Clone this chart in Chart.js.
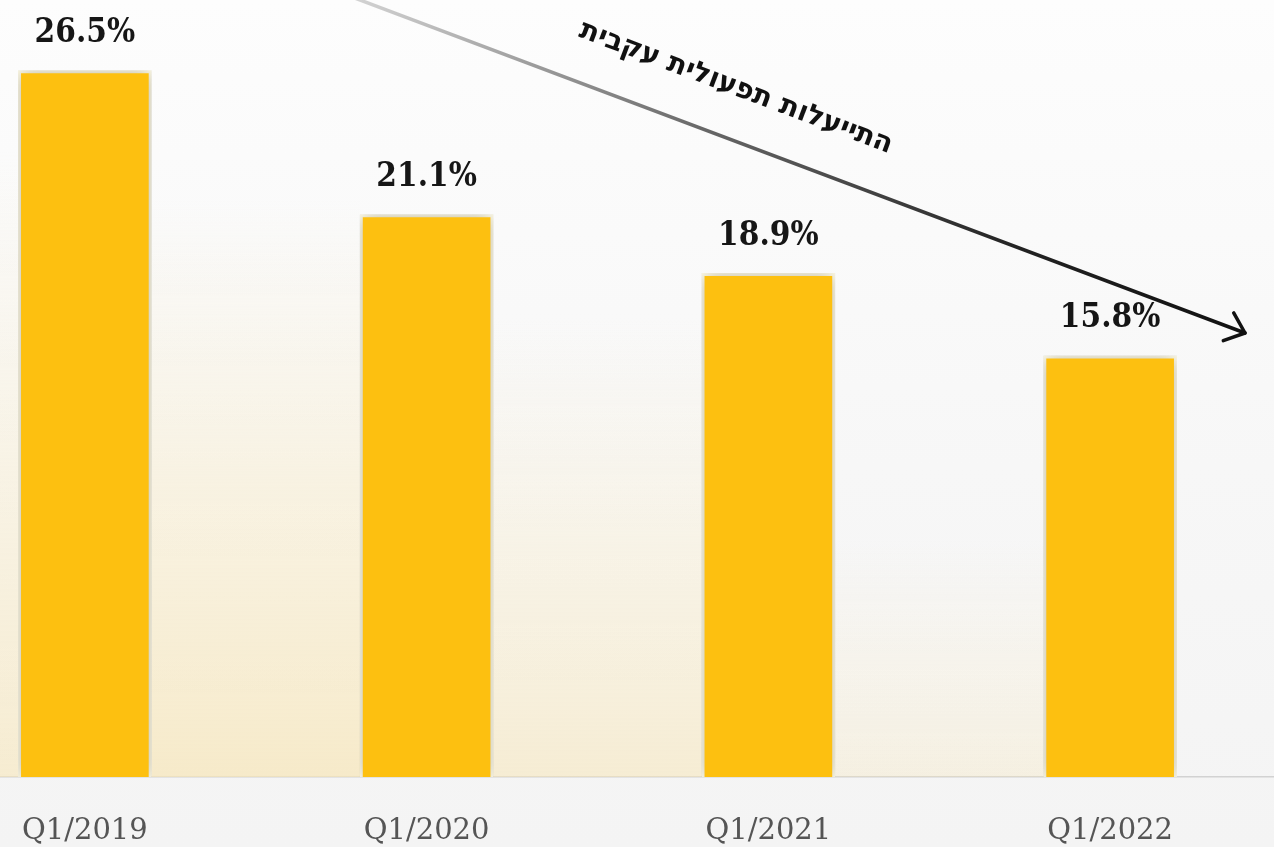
<!DOCTYPE html>
<html>
<head>
<meta charset="utf-8">
<script src="https://cdn.jsdelivr.net/npm/chart.js@4"></script>
<style>
  html, body { margin: 0; padding: 0; width: 1274px; height: 847px; overflow: hidden; }
  body {
    background: linear-gradient(180deg, #fdfdfd 0%, #f7f7f7 55%, #f4f4f4 100%);
    position: relative;
  }
  #c { position: absolute; left: -86px; top: 0; }
</style>
</head>
<body>
<canvas id="c" width="1367" height="847"></canvas>
<script>
const categories = ["Q1/2019", "Q1/2020", "Q1/2021", "Q1/2022"];
const values = [26.5, 21.1, 18.9, 15.8];
const valueLabels = ["26.5%", "21.1%", "18.9%", "15.8%"];
const arrowText = "התייעלות תפעולית עקבית";

const OFFSET_X = 86; // canvas is shifted left by this many px

// warm glow in the gaps between bars (decorative)
const glowPlugin = {
  id: 'gapGlow',
  beforeDatasetsDraw(chart) {
    const ctx = chart.ctx;
    const area = chart.chartArea;
    const bars = chart.getDatasetMeta(0).data;
    const gaps = [];
    const half = bars[0].width / 2;
    gaps.push({ l: OFFSET_X - 2, r: bars[0].x - half, top: 150, a: 0.6 });
    for (let i = 0; i < bars.length - 1; i++) {
      gaps.push({ l: bars[i].x + half, r: bars[i + 1].x - half,
                  top: [200, 320, 540][i], a: [0.72, 0.55, 0.32][i] });
    }
    ctx.save();
    gaps.forEach(g => {
      const grad = ctx.createLinearGradient(0, g.top, 0, area.bottom);
      grad.addColorStop(0, 'rgba(250,238,205,0)');
      grad.addColorStop(0.5, `rgba(250,236,198,${g.a * 0.6})`);
      grad.addColorStop(1, `rgba(247,230,185,${g.a})`);
      ctx.fillStyle = grad;
      ctx.fillRect(g.l, g.top, g.r - g.l, area.bottom - g.top);
    });
    ctx.restore();
    // bar shadow
    ctx.save();
    ctx.shadowColor = 'rgba(0,0,0,0.28)';
    ctx.shadowBlur = 16;
    ctx.shadowOffsetX = 0;
    ctx.shadowOffsetY = 0;
  },
  afterDatasetsDraw(chart) {
    chart.ctx.restore();
  }
};

const labelPlugin = {
  id: 'valueLabels',
  afterDatasetsDraw(chart) {
    const ctx = chart.ctx;
    const meta = chart.getDatasetMeta(0);
    ctx.save();
    ctx.shadowColor = 'transparent';
    ctx.font = "bold 33px 'DejaVu Serif Condensed', 'DejaVu Serif', serif";
    ctx.fillStyle = '#161616';
    ctx.textAlign = 'center';
    ctx.textBaseline = 'middle';
    meta.data.forEach((bar, i) => {
      ctx.fillText(valueLabels[i], bar.x, bar.y - 37);
    });
    ctx.restore();
  }
};

const arrowPlugin = {
  id: 'trendArrow',
  afterDraw(chart) {
    const ctx = chart.ctx;
    const x0 = 352 + OFFSET_X, y0 = -3;
    const x1 = 1245 + OFFSET_X, y1 = 333;
    ctx.save();
    const g = ctx.createLinearGradient(x0, y0, x1, y1);
    g.addColorStop(0, '#d4d4d4');
    g.addColorStop(0.4, '#666666');
    g.addColorStop(0.75, '#222222');
    g.addColorStop(1, '#111111');
    ctx.strokeStyle = g;
    ctx.lineWidth = 3.5;
    ctx.lineCap = 'round';
    ctx.lineJoin = 'round';
    ctx.beginPath();
    ctx.moveTo(x0, y0);
    ctx.lineTo(x1, y1);
    ctx.stroke();
    const ang = Math.atan2(y1 - y0, x1 - x0);
    const len = 23, spread = 40 * Math.PI / 180;
    ctx.strokeStyle = '#111111';
    ctx.beginPath();
    ctx.moveTo(x1 - len * Math.cos(ang - spread), y1 - len * Math.sin(ang - spread));
    ctx.lineTo(x1, y1);
    ctx.lineTo(x1 - len * Math.cos(ang + spread), y1 - len * Math.sin(ang + spread));
    ctx.stroke();
    // rotated text
    ctx.translate(736 + OFFSET_X, 88);
    ctx.rotate(ang);
    ctx.font = "bold 28px 'DejaVu Sans', 'Liberation Sans', sans-serif";
    ctx.fillStyle = '#111111';
    ctx.direction = 'rtl';
    ctx.textAlign = 'center';
    ctx.textBaseline = 'middle';
    ctx.fillText(arrowText, 0, 0);
    ctx.restore();
  }
};

new Chart(document.getElementById('c'), {
  type: 'bar',
  data: {
    labels: categories,
    datasets: [{
      data: values,
      backgroundColor: '#FDC010',
      borderColor: '#FFFBE6',
      borderWidth: 3,
      borderSkipped: 'start',
      barThickness: 133
    }]
  },
  options: {
    responsive: false,
    animation: false,
    devicePixelRatio: 1,
    layout: { padding: 0 },
    plugins: {
      legend: { display: false },
      tooltip: { enabled: false },
      title: { display: false }
    },
    scales: {
      x: {
        grid: { display: false, drawTicks: false },
        border: { display: true, color: '#d2d2d2', width: 1.5 },
        ticks: {
          color: '#555555',
          font: { family: "'DejaVu Serif', serif", size: 29 },
          padding: 37,
          maxRotation: 0
        },
        afterFit(scale) { scale.height = 70; }
      },
      y: {
        display: false,
        min: 0,
        max: 29.15
      }
    }
  },
  plugins: [glowPlugin, labelPlugin, arrowPlugin]
});
</script>
</body>
</html>
